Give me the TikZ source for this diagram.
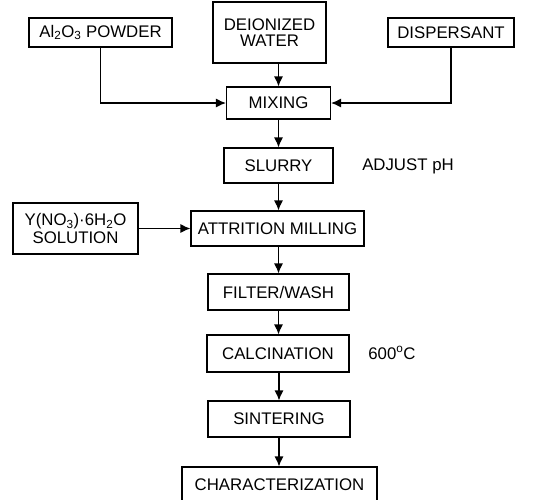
\documentclass[tikz,border=0pt]{standalone}
\usepackage{fontspec}
\setmainfont{Liberation Sans}
\usetikzlibrary{arrows.meta}
\begin{document}
\begin{tikzpicture}[x=1pt,y=-1pt,
  box/.style={draw,line width=1.1pt,inner sep=0pt,align=center,
    font=\fontsize{16.8}{16.5}\selectfont},
  lbl/.style={inner sep=0pt,font=\fontsize{16.8}{16.5}\selectfont},
  flow/.style={line width=1.2pt,-{Latex[length=10pt,width=9pt]}}]
\useasboundingbox (0,0) rectangle (546,499);
\clip (0,0) rectangle (546,499);
\node[box,minimum width=143pt,minimum height=29pt] (al) at (100.5,32.5) {Al\textsubscript{2}O\textsubscript{3} POWDER};
\node[box,minimum width=113pt,minimum height=61pt] (water) at (269.5,32.5) {DEIONIZED\\WATER};
\node[box,minimum width=126pt,minimum height=29pt] (disp) at (451,32.5) {DISPERSANT};
\node[box,minimum width=104pt,minimum height=32pt] (mix) at (278.5,103) {MIXING};
\node[box,minimum width=109pt,minimum height=35pt] (slurry) at (278.5,165.5) {SLURRY};
\node[lbl] (adjust) at (408,166) {ADJUST pH};
\node[box,minimum width=125pt,minimum height=51pt] (ysol) at (75.5,228.5) {Y(NO\textsubscript{3})·6H\textsubscript{2}O\\[1.5pt]SOLUTION};
\node[box,minimum width=173pt,minimum height=35pt] (att) at (277.5,228.5) {ATTRITION MILLING};
\node[box,minimum width=141pt,minimum height=36pt] (filter) at (278.5,292) {FILTER/WASH};
\node[box,minimum width=142pt,minimum height=37pt] (calc) at (278,353.5) {CALCINATION};
\node[lbl] (temp) at (392,353) {600\textsuperscript{o}C};
\node[box,minimum width=142pt,minimum height=36pt] (sint) at (279,419) {SINTERING};
\node[box,minimum width=195pt,minimum height=36pt] (char) at (279.5,485) {CHARACTERIZATION};
\draw[flow] (al.south) |- (mix.west);
\draw[flow] (disp.south) |- (mix.east);
\draw[flow] (water.south -| mix.north) -- (mix.north);
\draw[flow] (mix.south) -- (slurry.north -| mix.south);
\draw[flow] (slurry.south) -- (att.north -| slurry.south);
\draw[flow] (ysol.east) -- (att.west);
\draw[flow] (att.south -| filter.north) -- (filter.north);
\draw[flow] (filter.south) -- (calc.north -| filter.south);
\draw[flow] (calc.south -| sint.north) -- (sint.north);
\draw[flow] (sint.south) -- (char.north -| sint.south);
\end{tikzpicture}
\end{document}
